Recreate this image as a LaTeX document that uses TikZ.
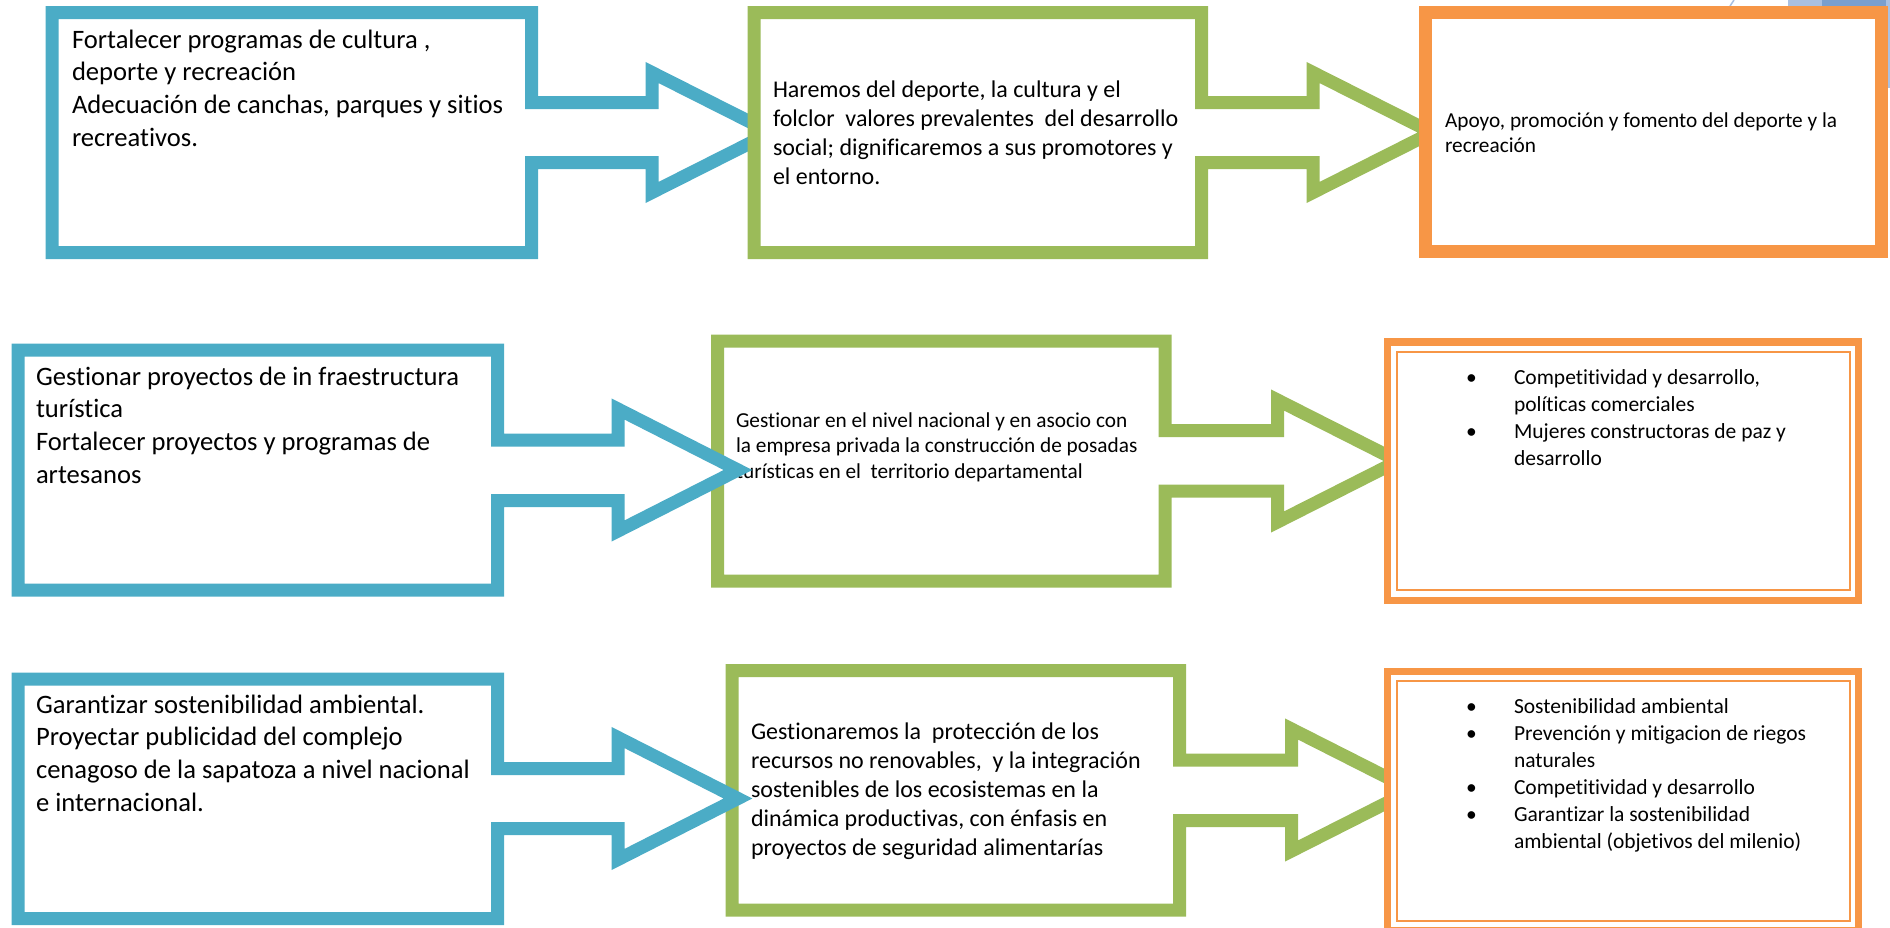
\documentclass[tikz,border=0pt]{standalone}
\usepackage{fontspec}
\setmainfont{Carlito}[Ligatures=NoCommon]
\definecolor{cblue}{HTML}{4BACC6}
\definecolor{cgreen}{HTML}{9BBB59}
\definecolor{corange}{HTML}{F79646}
\definecolor{fragA}{HTML}{A9C0E2}
\definecolor{fragB}{HTML}{7A9FCE}
\newcommand\itbul{\makebox[48pt][l]{•}}
\newcommand\itind{\hspace*{48pt}}
\tikzset{
  callblue/.style={draw=cblue, line width=13pt, fill=white, miter limit=10},
  callgreen/.style={draw=cgreen, line width=13pt, fill=white, miter limit=10},
  boxorange/.style={draw=corange, line width=13pt, fill=white},
  boxorangeb/.style={draw=corange, line width=7.4pt, fill=white},
  thinorange/.style={draw=corange, line width=1.2pt},
  txt/.style={anchor=base west, inner sep=0pt, outer sep=0pt},
  bigtxt/.style={txt, font=\fontsize{26.6}{32.7}\selectfont},
  midtxt/.style={txt, font=\fontsize{24}{29.2}\selectfont},
  smalltxt/.style={txt, font=\fontsize{21.3}{25.8}\selectfont},
  listtxt/.style={txt, font=\fontsize{21.5}{27}\selectfont},
}
\begin{document}
\begin{tikzpicture}[x=1pt,y=-1pt]
\useasboundingbox (0,0) rectangle (1890,927);
% top-right fragments of a neighbouring picture
\fill[fragA] (1788,0) rectangle (1890,6);
\fill[fragB] (1822,0) rectangle (1890,6);
\fill[fragA] (1886,0) rectangle (1890,88);
\draw[fragA, line width=1.5pt] (1730,6) -- (1734,0);

% ---------- Row 1 ----------
\path[callblue] (52,12.5) -- (531.5,12.5) -- (531.5,102.5) -- (652,102.5) -- (652,72.5) -- (771,132.5) -- (652,192.5) -- (652,162.5) -- (531.5,162.5) -- (531.5,252.5) -- (52,252.5) -- cycle;
\node[bigtxt] (b1) at (72,48) {\begin{tabular}[t]{@{}l@{}}
Fortalecer programas de cultura ,\\
deporte y recreación\\
Adecuación de canchas, parques y sitios\\
recreativos.
\end{tabular}};
\path[callgreen] (754,12.5) -- (1201.5,12.5) -- (1201.5,102.5) -- (1313,102.5) -- (1313,72.5) -- (1432,132.5) -- (1313,192.5) -- (1313,162.5) -- (1201.5,162.5) -- (1201.5,252.5) -- (754,252.5) -- cycle;
\node[midtxt] (g1) at (773,97) {\begin{tabular}[t]{@{}l@{}}
Haremos del deporte, la cultura y el\\
folclor\ \ valores prevalentes\ \ del desarrollo\\
social; dignificaremos a sus promotores y\\
el entorno.
\end{tabular}};
\path[boxorange] (1425.5,12) rectangle (1881.5,251.5);
\node[smalltxt] (o1) at (1445,127) {\begin{tabular}[t]{@{}l@{}}
Apoyo, promoción y fomento del deporte y la\\
recreación
\end{tabular}};

% ---------- Row 2 ----------
\path[callgreen] (717.5,341) -- (1165,341) -- (1165,430.5) -- (1277.5,430.5) -- (1277.5,400) -- (1398,461) -- (1277.5,522) -- (1277.5,491) -- (1165,491) -- (1165,581) -- (717.5,581) -- cycle;
\node[smalltxt] (g2) at (736,427) {\begin{tabular}[t]{@{}l@{}}
Gestionar en el nivel nacional y en asocio con\\
la empresa privada la construcción de posadas\\
turísticas en el\ \ territorio departamental
\end{tabular}};
\path[callblue] (18,350) -- (497.5,350) -- (497.5,440) -- (618,440) -- (618,409) -- (738,470) -- (618,531) -- (618,500.5) -- (497.5,500.5) -- (497.5,590) -- (18,590) -- cycle;
\node[bigtxt] (b2) at (36,385) {\begin{tabular}[t]{@{}l@{}}
Gestionar proyectos de in fraestructura\\
turística\\
Fortalecer proyectos y programas de\\
artesanos
\end{tabular}};
\path[boxorangeb] (1387.7,342) rectangle (1858.5,600.3);
\draw[thinorange] (1397,352) rectangle (1850,590);
\node[listtxt] (o2) at (1466,384) {\begin{tabular}[t]{@{}l@{}}
\itbul Competitividad y desarrollo,\\
\itind políticas comerciales\\
\itbul Mujeres constructoras de paz y\\
\itind desarrollo
\end{tabular}};

% ---------- Row 3 ----------
\path[callgreen] (732,670.5) -- (1179.5,670.5) -- (1179.5,760) -- (1291.5,760) -- (1291.5,729) -- (1412,790) -- (1291.5,851) -- (1291.5,820.5) -- (1179.5,820.5) -- (1179.5,910) -- (732,910) -- cycle;
\node[midtxt] (g3) at (751,739) {\begin{tabular}[t]{@{}l@{}}
Gestionaremos la\ \ protección de los\\
recursos no renovables,\ \ y la integración\\
sostenibles de los ecosistemas en la\\
dinámica productivas, con énfasis en\\
proyectos de seguridad alimentarías
\end{tabular}};
\path[callblue] (18,679) -- (497.5,679) -- (497.5,768.5) -- (618,768.5) -- (618,737.5) -- (738,798.5) -- (618,859.5) -- (618,828.5) -- (497.5,828.5) -- (497.5,918.5) -- (18,918.5) -- cycle;
\node[bigtxt] (b3) at (36,713) {\begin{tabular}[t]{@{}l@{}}
Garantizar sostenibilidad ambiental.\\
Proyectar publicidad del complejo\\
cenagoso de la sapatoza a nivel nacional\\
e internacional.
\end{tabular}};
\path[boxorangeb] (1387.7,671.3) rectangle (1858.5,931);
\draw[thinorange] (1397,681) rectangle (1850,921);
\node[listtxt] (o3) at (1466,713) {\begin{tabular}[t]{@{}l@{}}
\itbul Sostenibilidad ambiental\\
\itbul Prevención y mitigacion de riegos\\
\itind naturales\\
\itbul Competitividad y desarrollo\\
\itbul Garantizar la sostenibilidad\\
\itind ambiental (objetivos del milenio)
\end{tabular}};
\end{tikzpicture}
\end{document}
